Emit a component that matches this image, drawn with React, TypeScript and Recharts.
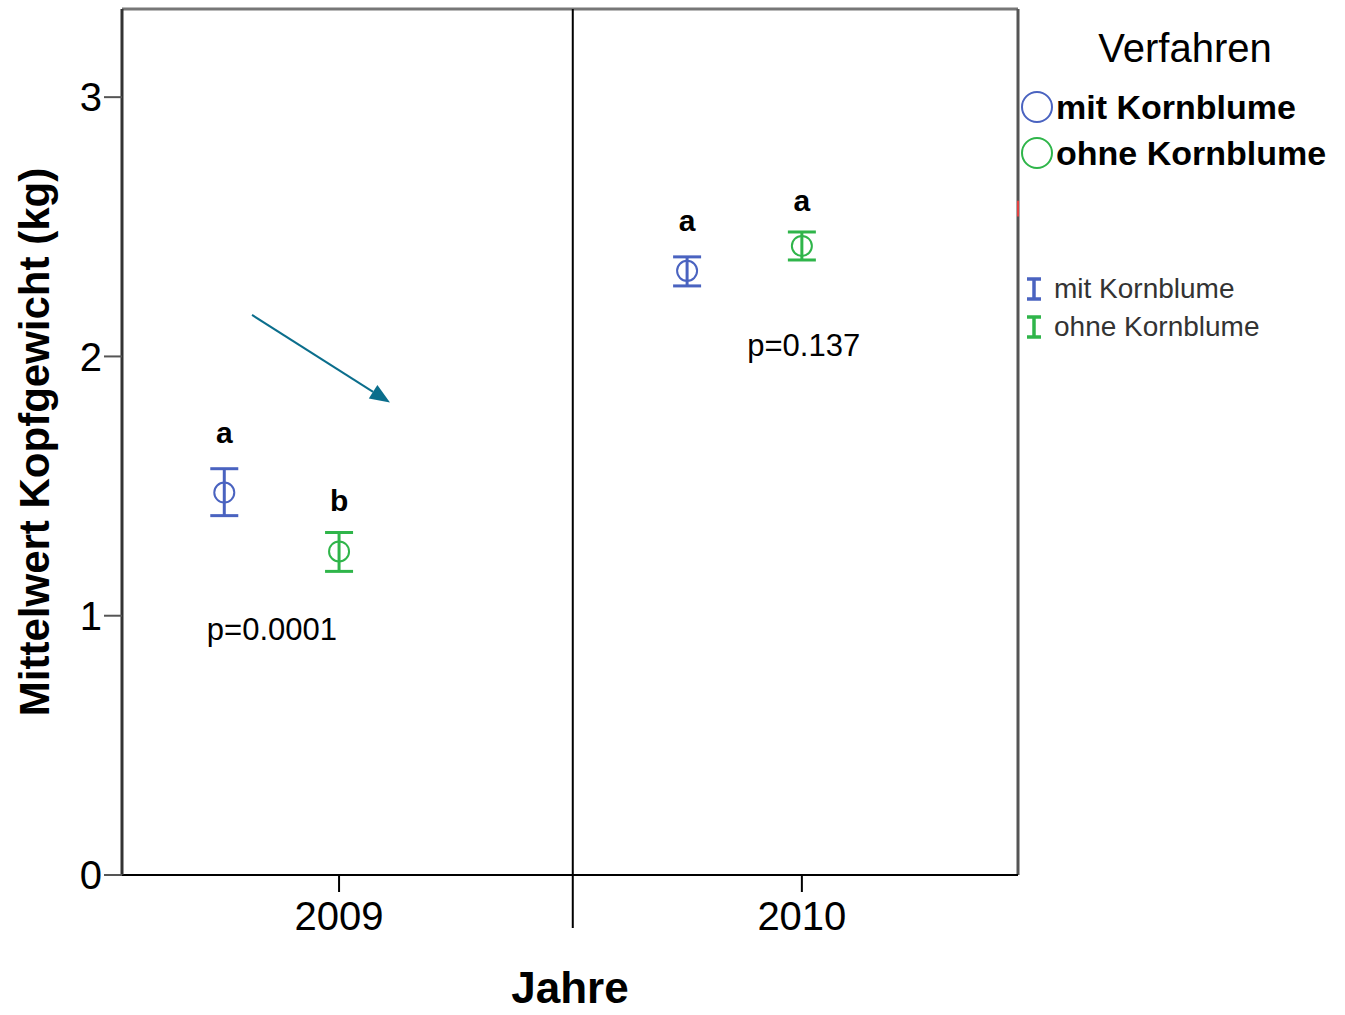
import React from "react"
import {
  ComposedChart,
  Scatter,
  ErrorBar,
  XAxis,
  YAxis,
  ReferenceLine,
  ReferenceDot,
  Legend,
  Label,
} from "recharts"

// Jahre und Mittelwerte (kg) mit 95%-Konfidenzgrenzen
const years = ["2009", "2010"]
const mitMean = [1.475, 2.33]
const mitLower = [1.386, 2.272]
const mitUpper = [1.567, 2.384]
const ohneMean = [1.248, 2.426]
const ohneLower = [1.171, 2.372]
const ohneUpper = [1.321, 2.48]
const mitLetters = ["a", "a"]
const ohneLetters = ["b", "a"]
const pValues = ["p=0.0001", "p=0.137"]
const yTicks = [0, 1, 2, 3]

const BLUE = "#4a63c0"
const GREEN = "#2fb54a"
const FONT = "'Liberation Sans', Arial, sans-serif"

// dodge of the "mit" series to the left of each year tick
const DODGE = -0.248
const X_MIN = -0.469
const X_MAX = 1.467
const Y_MAX = 3.34

const mitData = years.map((yr, i) => ({
  x: i + DODGE,
  y: mitMean[i],
  err: [mitMean[i] - mitLower[i], mitUpper[i] - mitMean[i]],
}))
const ohneData = years.map((yr, i) => ({
  x: i,
  y: ohneMean[i],
  err: [ohneMean[i] - ohneLower[i], ohneUpper[i] - ohneMean[i]],
}))

const OpenCircle = (color: string) => (props: any) => {
  const { cx, cy } = props
  return <circle cx={cx} cy={cy} r={10} fill="none" stroke={color} strokeWidth={2} />
}

const Arrow = (props: any) => {
  const { x1, y1, x2, y2 } = props
  const ang = Math.atan2(y2 - y1, x2 - x1)
  const len = 20
  const w = 8
  const bx = x2 - len * Math.cos(ang)
  const by = y2 - len * Math.sin(ang)
  const px = -Math.sin(ang) * w
  const py = Math.cos(ang) * w
  return (
    <g>
      <line x1={x1} y1={y1} x2={bx} y2={by} stroke="#0b6e8c" strokeWidth={2} />
      <polygon points={`${x2},${y2} ${bx + px},${by + py} ${bx - px},${by - py}`} fill="#0b6e8c" />
    </g>
  )
}

const LegendBox = () => (
  <div style={{ fontFamily: FONT, color: "#000" }}>
    <div style={{ fontSize: 40, textAlign: "center", width: 310, marginLeft: 10, lineHeight: "48px", marginBottom: 12 }}>Verfahren</div>
    {[
      { label: "mit Kornblume", color: BLUE },
      { label: "ohne Kornblume", color: GREEN },
    ].map((e) => (
      <div key={e.label} style={{ display: "flex", alignItems: "center", height: 46 }}>
        <svg width={36} height={36}>
          <circle cx={17} cy={18} r={15} fill="none" stroke={e.color} strokeWidth={2} />
        </svg>
        <span style={{ fontSize: 34, fontWeight: "bold", lineHeight: "36px" }}>{e.label}</span>
      </div>
    ))}
    <div style={{ height: 94 }} />
    {[
      { label: "mit Kornblume", color: BLUE },
      { label: "ohne Kornblume", color: GREEN },
    ].map((e) => (
      <div key={"eb" + e.label} style={{ display: "flex", alignItems: "center", height: 38 }}>
        <svg width={30} height={30}>
          <line x1={7} y1={5} x2={21} y2={5} stroke={e.color} strokeWidth={3.5} />
          <line x1={14} y1={5} x2={14} y2={25} stroke={e.color} strokeWidth={3.5} />
          <line x1={7} y1={25} x2={21} y2={25} stroke={e.color} strokeWidth={3.5} />
        </svg>
        <span style={{ fontSize: 28, color: "#333", marginLeft: 4 }}>{e.label}</span>
      </div>
    ))}
  </div>
)

export default function App() {
  return (
    <div style={{ position: "absolute", left: 0, top: 0, width: 1345, height: 1015, background: "#fff" }}>
      <ComposedChart
        width={1345}
        height={1015}
        margin={{ top: 9, right: 327, bottom: 105, left: 2 }}
      >
        <XAxis
          type="number"
          dataKey="x"
          domain={[X_MIN, X_MAX]}
          ticks={[0, 1]}
          tickFormatter={(v: number) => years[v]}
          allowDataOverflow
          height={35}
          tickSize={17}
          tick={{ fontSize: 40, fill: "#000", fontFamily: FONT, dy: 8 }}
          axisLine={{ stroke: "#000", strokeWidth: 2 }}
          tickLine={{ stroke: "#000", strokeWidth: 2 }}
        >
          <Label value="Jahre" position="bottom" offset={62} style={{ fontSize: 44, fontWeight: "bold", fill: "#000", fontFamily: FONT }} />
        </XAxis>
        <YAxis
          type="number"
          domain={[0, Y_MAX]}
          ticks={yTicks}
          allowDataOverflow
          width={120}
          tickSize={18}
          tick={{ fontSize: 40, fill: "#000", fontFamily: FONT }}
          axisLine={{ stroke: "#333", strokeWidth: 3 }}
          tickLine={{ stroke: "#555", strokeWidth: 2 }}
        >
          <Label
            value="Mittelwert Kopfgewicht (kg)"
            angle={-90}
            position="insideLeft"
            offset={32}
            style={{ fontSize: 42, fontWeight: "bold", fill: "#000", fontFamily: FONT, textAnchor: "middle" }}
          />
        </YAxis>

        <ReferenceLine y={Y_MAX} stroke="#777" strokeWidth={3} />
        <ReferenceLine x={X_MAX} stroke="#555" strokeWidth={3} />
        <ReferenceLine
          segment={[{ x: X_MAX, y: 2.54 }, { x: X_MAX, y: 2.6 }]}
          stroke="#e04040"
          strokeWidth={2}
        />
        <ReferenceLine
          segment={[{ x: 0.505, y: -0.204 }, { x: 0.505, y: Y_MAX }]}
          stroke="#000"
          strokeWidth={2}
          ifOverflow="visible"
        />
        <ReferenceLine
          segment={[{ x: -0.188, y: 2.16 }, { x: 0.11, y: 1.822 }]}
          shape={Arrow}
          ifOverflow="visible"
        />

        <Scatter name="mit Kornblume" data={mitData} dataKey="y" shape={OpenCircle(BLUE)} isAnimationActive={false}>
          <ErrorBar dataKey="err" direction="y" width={14} stroke={BLUE} strokeWidth={3} />
        </Scatter>
        <Scatter name="ohne Kornblume" data={ohneData} dataKey="y" shape={OpenCircle(GREEN)} isAnimationActive={false}>
          <ErrorBar dataKey="err" direction="y" width={14} stroke={GREEN} strokeWidth={3} />
        </Scatter>

        {years.map((yr, i) => (
          <ReferenceDot
            key={"lm" + yr}
            x={i + DODGE}
            y={mitUpper[i]}
            r={0}
            fill="none"
            stroke="none"
            label={{ value: mitLetters[i], position: "top", offset: 26, fontSize: 30, fontWeight: "bold", fill: "#000", fontFamily: FONT }}
          />
        ))}
        {years.map((yr, i) => (
          <ReferenceDot
            key={"lo" + yr}
            x={i}
            y={ohneUpper[i]}
            r={0}
            fill="none"
            stroke="none"
            label={{ value: ohneLetters[i], position: "top", offset: 21, fontSize: 30, fontWeight: "bold", fill: "#000", fontFamily: FONT }}
          />
        ))}
        <ReferenceDot
          x={-0.145}
          y={0.947}
          r={0}
          fill="none"
          stroke="none"
          label={{ value: pValues[0], position: "center", fontSize: 31, fill: "#000", fontFamily: FONT }}
        />
        <ReferenceDot
          x={1.004}
          y={2.045}
          r={0}
          fill="none"
          stroke="none"
          label={{ value: pValues[1], position: "center", fontSize: 31, fill: "#000", fontFamily: FONT }}
        />

        <Legend
          layout="horizontal"
          verticalAlign="middle"
          align="center"
          content={() => <LegendBox />}
          wrapperStyle={{ position: "absolute", left: 1020, top: 24, width: 325 }}
        />
      </ComposedChart>
    </div>
  )
}
